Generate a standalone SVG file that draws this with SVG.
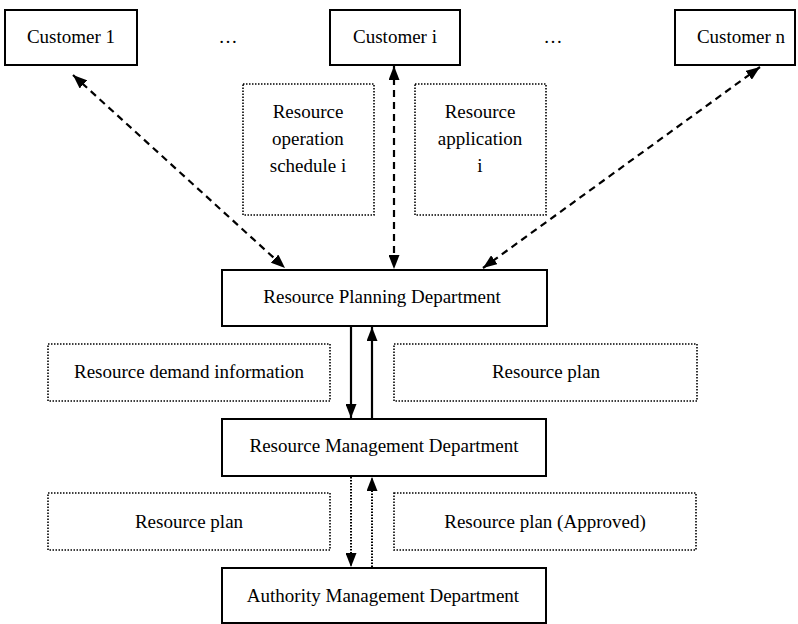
<svg xmlns="http://www.w3.org/2000/svg" width="798" height="624" viewBox="0 0 798 624">
<style>
.box{fill:#fff;stroke:#000;stroke-width:2}
.note{fill:#fff;stroke:#000;stroke-width:1.6;stroke-dasharray:1.5 1.5}
text{font-family:"Liberation Serif","Times New Roman",serif;font-size:19px;fill:#000;text-anchor:middle}
.dash{stroke:#000;stroke-width:2.2;stroke-dasharray:7 5;fill:none}
.solid{stroke:#000;stroke-width:2.2;fill:none}
.dot{stroke:#000;stroke-width:2;stroke-dasharray:1.5 1.5;fill:none}
</style>
<defs>
<marker id="ah" viewBox="0 0 14 11" refX="14" refY="5.5" markerWidth="14" markerHeight="11" markerUnits="userSpaceOnUse" orient="auto-start-reverse">
<path d="M0,0 L14,5.5 L0,11 Z" fill="#000"/>
</marker>
</defs>
<rect width="798" height="624" fill="#fff"/>
<g id="customer1"><rect class="box" x="5" y="10" width="132" height="55"/><text x="71" y="43">Customer 1</text></g>
<g id="dots1"><text x="228" y="43">…</text></g>
<g id="customeri"><rect class="box" x="330" y="10" width="130" height="55"/><text x="395" y="43">Customer i</text></g>
<g id="dots2"><text x="553" y="43">…</text></g>
<g id="customern"><rect class="box" x="675" y="10" width="120" height="55"/><text x="741" y="43">Customer n</text></g>
<g id="schedule"><rect class="note" x="243" y="84" width="131" height="131"/><text x="308" y="118">Resource</text><text x="308" y="145">operation</text><text x="308" y="172">schedule i</text></g>
<g id="application"><rect class="note" x="415" y="84" width="131" height="131"/><text x="480" y="118">Resource</text><text x="480" y="145">application</text><text x="480" y="172">i</text></g>
<g id="rpd"><rect class="box" x="222" y="270" width="325" height="56"/><text x="382" y="303">Resource Planning Department</text></g>
<g id="demand"><rect class="note" x="48" y="344" width="282" height="57"/><text x="189" y="378">Resource demand information</text></g>
<g id="plan1"><rect class="note" x="394" y="344" width="303" height="57"/><text x="546" y="378">Resource plan</text></g>
<g id="rmd"><rect class="box" x="222" y="419" width="324" height="57"/><text x="384" y="452">Resource Management Department</text></g>
<g id="plan2"><rect class="note" x="48" y="493" width="282" height="57"/><text x="189" y="528">Resource plan</text></g>
<g id="approved"><rect class="note" x="394" y="493" width="302" height="57"/><text x="545" y="528">Resource plan (Approved)</text></g>
<g id="amd"><rect class="box" x="222" y="568" width="324" height="55"/><text x="383" y="602">Authority Management Department</text></g>
<g id="connectors">
<line class="dash" x1="73" y1="75" x2="285" y2="268" marker-start="url(#ah)" marker-end="url(#ah)"/>
<line class="dash" x1="394" y1="66" x2="394" y2="269" marker-start="url(#ah)" marker-end="url(#ah)"/>
<line class="dash" x1="760" y1="67" x2="483" y2="268" marker-start="url(#ah)" marker-end="url(#ah)"/>
<line class="solid" x1="351" y1="327" x2="351" y2="418" marker-end="url(#ah)"/>
<line class="solid" x1="372" y1="418" x2="372" y2="327" marker-end="url(#ah)"/>
<line class="dot" x1="351" y1="477" x2="351" y2="567" marker-end="url(#ah)"/>
<line class="dot" x1="372" y1="567" x2="372" y2="477" marker-end="url(#ah)"/>
</g>
</svg>
